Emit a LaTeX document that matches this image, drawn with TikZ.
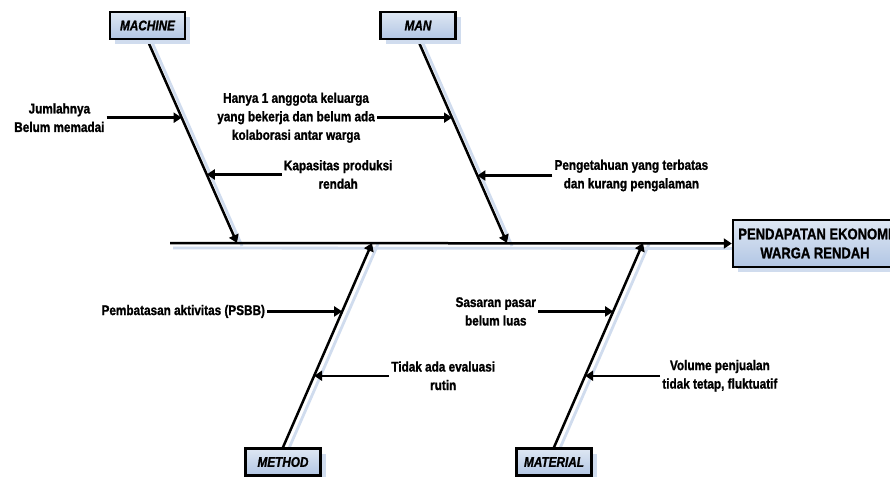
\documentclass[tikz,border=0pt]{standalone}
\usepackage{fontspec}
\setmainfont{Liberation Sans}[FakeStretch=0.84,
  UprightFont={Liberation Sans},
  BoldFont={Liberation Sans Bold},
  ItalicFont={Liberation Sans Italic},
  BoldItalicFont={Liberation Sans Bold Italic},
  BoldFeatures={FakeBold=1.2},
  BoldItalicFeatures={FakeBold=1.2}]
\usetikzlibrary{arrows.meta,shadows}
\definecolor{shadowcol}{RGB}{208,220,238}
\definecolor{boxtop}{RGB}{222,231,243}
\definecolor{boxbot}{RGB}{178,198,228}
\begin{document}
\begin{tikzpicture}[x=1pt,y=-1pt,
  tip/.style={-{Triangle[length=8pt,width=10pt]}},
  bone/.style={line width=2.5pt,tip},
  causearrow/.style={line width=2.5pt,tip},
  shadowline/.style={line width=2.8pt,shadowcol},
  catbox/.style={draw,line width=2.5pt,top color=boxtop,bottom color=boxbot,
    minimum width=75pt,minimum height=27pt,inner sep=0pt,
    font=\bfseries\itshape\fontsize{14}{16}\selectfont,
    drop shadow={shadow xshift=5pt,shadow yshift=-5pt,fill=shadowcol,opacity=1}},
  effectbox/.style={draw,line width=2.5pt,top color=boxtop,bottom color=boxbot,
    minimum width=164pt,minimum height=47pt,inner sep=0pt,align=center,
    font=\bfseries\fontsize{15.5}{19}\selectfont,
    drop shadow={shadow xshift=5pt,shadow yshift=-5pt,fill=shadowcol,opacity=1}},
  cause/.style={align=center,inner sep=2pt,font=\bfseries\fontsize{14}{18.5}\selectfont}]
\useasboundingbox (0,0) rectangle (890,476);
\clip (0,0) rectangle (890,476);
\fill[white] (0,0) rectangle (890,476);

% spine coordinates
\coordinate (spL) at (170,243);
\coordinate (sM) at (237,243);
\coordinate (sN) at (507,243);
\coordinate (sT) at (372,243);
\coordinate (sL) at (643,243);

% boxes (positions)
\node[catbox] (machine) at (147.5,25.5) {MACHINE};
\node[catbox] (man) at (418,25.5) {MAN};
\node[catbox] (method) at (283,462) {METHOD};
\node[catbox] (material) at (554,462) {MATERIAL};
\node[effectbox] (eff) at (815,243.5) {PENDAPATAN EKONOMI\\WARGA RENDAH};

% shadows of lines
\draw[shadowline] ([shift={(3,5)}]spL) -- ([shift={(0,5)}]eff.west);
\draw[shadowline] ([shift={(5,3)}]machine.south) -- ([shift={(5,3)}]sM);
\draw[shadowline] ([shift={(5,3)}]man.south) -- ([shift={(5,3)}]sN);
\draw[shadowline] ([shift={(6,1)}]method.north) -- ([shift={(6,1)}]sT);
\draw[shadowline] ([shift={(6,1)}]material.north) -- ([shift={(6,1)}]sL);

% spine
\draw[bone] (spL) -- (eff.west);

% bones
\draw[bone] (machine.south) -- (sM) coordinate[pos=0.382] (mJ) coordinate[pos=0.662] (mK);
\draw[bone] (man.south) -- (sN) coordinate[pos=0.382] (nH) coordinate[pos=0.667] (nP);
\draw[bone] (method.north) -- (sT) coordinate[pos=0.665] (tP) coordinate[pos=0.35] (tT);
\draw[bone] (material.north) -- (sL) coordinate[pos=0.665] (lS) coordinate[pos=0.35] (lV);

% redraw boxes on top
\node[catbox] at (machine) {MACHINE};
\node[catbox] at (man) {MAN};
\node[catbox] at (method) {METHOD};
\node[catbox] at (material) {MATERIAL};

% causes
\node[cause,anchor=east] (jml) at ([xshift=-75pt]mJ) {Jumlahnya\\Belum memadai};
\draw[causearrow] (jml.east) -- (mJ);
\node[cause,anchor=west] (kap) at ([xshift=75pt]mK) {Kapasitas produksi\\rendah};
\draw[causearrow] (kap.west) -- (mK);
\node[cause,anchor=east] (hny) at ([xshift=-75pt]nH) {Hanya 1 anggota keluarga\\yang bekerja dan belum ada\\kolaborasi antar warga};
\draw[causearrow] (hny.east) -- (nH);
\node[cause,anchor=west] (pgt) at ([xshift=75pt]nP) {Pengetahuan yang terbatas\\dan kurang pengalaman};
\draw[causearrow] (pgt.west) -- (nP);
\node[cause,anchor=east] (pmb) at ([xshift=-75pt]tP) {Pembatasan aktivitas (PSBB)};
\draw[causearrow] (pmb.east) -- (tP);
\node[cause,anchor=west] (tdk) at ([xshift=75pt]tT) {Tidak ada evaluasi\\rutin};
\draw[causearrow] (tdk.west) -- (tT);
\node[cause,anchor=east] (ssr) at ([xshift=-75pt]lS) {Sasaran pasar\\belum luas};
\draw[causearrow] (ssr.east) -- (lS);
\node[cause,anchor=west] (vol) at ([xshift=75pt]lV) {Volume penjualan\\tidak tetap, fluktuatif};
\draw[causearrow] (vol.west) -- (lV);
\end{tikzpicture}
\end{document}
